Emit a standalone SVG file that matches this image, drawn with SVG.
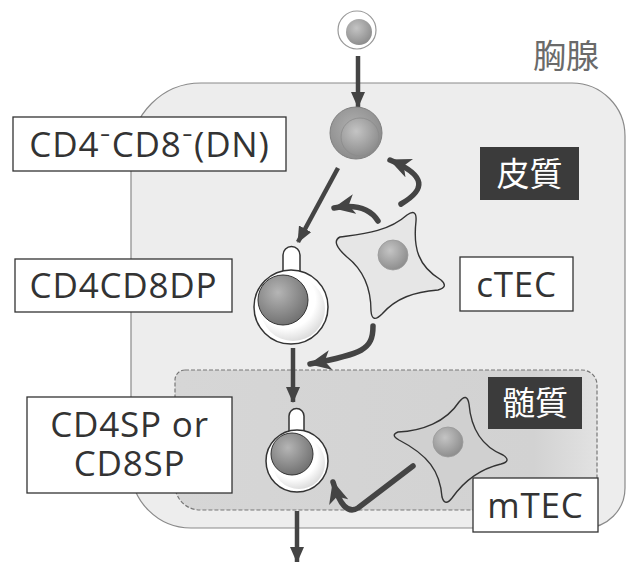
<svg xmlns="http://www.w3.org/2000/svg" width="633" height="562" viewBox="0 0 633 562">
  <style>
    .lbl { fill: #fff; stroke: #333; stroke-width: 1.3; }
    .lt { font-family: "Open Sans", "Lato", "DejaVu Sans", sans-serif; font-size: 35px; fill: #333; text-anchor: middle; letter-spacing: 0.8px; }
    .dark { fill: #3b3b3b; }
    .jt { font-family: "Noto Sans CJK JP", "Noto Sans CJK SC", sans-serif; font-size: 33px; fill: #fff; text-anchor: middle; }
    .arrow { fill: none; stroke: #444; stroke-width: 4.5; }
    .curve { fill: none; stroke: #444; stroke-width: 5.5; stroke-linecap: round; stroke-linejoin: round; }
    .cellwall { fill: #fff; stroke: #333; stroke-width: 1.5; }
    .star { stroke: #333; stroke-width: 1.4; stroke-linejoin: round; }
  </style>
  <defs>
    <marker id="tri" viewBox="0 0 16 14" refX="15" refY="7" markerWidth="16" markerHeight="14" markerUnits="userSpaceOnUse" orient="auto">
      <path d="M0,0 L16,7 L0,14 Z" fill="#444"/>
    </marker>
    <marker id="barb" viewBox="0 0 22 20" refX="21" refY="10" markerWidth="22" markerHeight="20" markerUnits="userSpaceOnUse" orient="auto">
      <path d="M0,0 L22,10 L0,20 L6,10 Z" fill="#444"/>
    </marker>
    <radialGradient id="nuc" cx="0.4" cy="0.35" r="0.7">
      <stop offset="0" stop-color="#b5b5b5"/>
      <stop offset="1" stop-color="#6e6e6e"/>
    </radialGradient>
    <radialGradient id="nucLight" cx="0.4" cy="0.35" r="0.7">
      <stop offset="0" stop-color="#c4c4c4"/>
      <stop offset="1" stop-color="#8a8a8a"/>
    </radialGradient>
    <radialGradient id="dnOuter" cx="0.45" cy="0.4" r="0.6">
      <stop offset="0" stop-color="#b0b0b0"/>
      <stop offset="1" stop-color="#8c8c8c"/>
    </radialGradient>
    <radialGradient id="ring" cx="0.4" cy="0.35" r="0.75">
      <stop offset="0.6" stop-color="#ffffff"/>
      <stop offset="1" stop-color="#cfcfcf"/>
    </radialGradient>
    <linearGradient id="medFill" x1="0" y1="0" x2="1" y2="0">
      <stop offset="0" stop-color="#d6d6d6"/>
      <stop offset="0.85" stop-color="#d2d2d2"/>
      <stop offset="1" stop-color="#e2e2e2"/>
    </linearGradient>
  </defs>

  <rect width="633" height="562" fill="#fff"/>

  <!-- thymus outline -->
  <g id="thymus">
    <path d="M131,153 A70,70 0 0 1 201,83 L572,83 A53,53 0 0 1 625,136 L625,488 A40,40 0 0 1 585,528 L191,528 A60,60 0 0 1 131,468 Z" fill="#ededed" stroke="#8a8a8a" stroke-width="1.2"/>
    <text x="566" y="68" font-family="'Noto Sans CJK JP', 'Noto Sans CJK SC', sans-serif" font-size="33" fill="#6a6a6a" text-anchor="middle">胸腺</text>
  </g>

  <!-- medulla region -->
  <g id="medulla">
    <path d="M185,370 L582,370 A15,15 0 0 1 597,385 L597,510 L200,510 A25,25 0 0 1 175,485 L175,380 A10,10 0 0 1 185,370 Z" fill="url(#medFill)" stroke="#777" stroke-width="1.2" stroke-dasharray="4 2"/>
  </g>

  <!-- region tags -->
  <g id="cortex-tag">
    <rect class="dark" x="480" y="147" width="99" height="53"/>
    <text class="jt" x="529.5" y="186">皮質</text>
  </g>
  <g id="medulla-tag">
    <rect class="dark" x="488" y="377" width="94" height="52"/>
    <text class="jt" x="535" y="415">髄質</text>
  </g>

  <!-- epithelial cells: four-armed stars with rounded tips -->
  <g id="ctec">
    <path class="star" fill="#e6e6e6" d="M340,237 C362,234 388,232 407,215 Q417,208 416,221 C413,248 418,266 441,280 Q449,287 438,290 C414,292 396,298 382,314 Q372,324 371,311 C371,292 366,272 347,257 Q330,242 340,237 Z"/>
    <circle cx="393" cy="255" r="15" fill="url(#nucLight)" stroke="#999" stroke-width="0.8"/>
  </g>
  <g id="mtec">
    <path class="star" fill="#d0d0d0" d="M398,432 C422,431 446,422 459,402 Q467,392 469,404 C471,428 481,446 503,455 Q512,461 501,464 C480,469 464,481 452,498 Q445,507 442,497 C440,471 428,455 399,440 Q390,435 398,432 Z"/>
    <circle cx="448" cy="442" r="15" fill="url(#nucLight)" stroke="#999" stroke-width="0.8"/>
  </g>

  <!-- connectors -->
  <g id="connectors">
    <path class="arrow" d="M358,56 L358,107" marker-end="url(#tri)"/>
    <path class="arrow" d="M338,168 L298,242" marker-end="url(#tri)"/>
    <path class="arrow" d="M293,348 L293,402" marker-end="url(#tri)"/>
    <path class="arrow" d="M297,511 L297,562" marker-end="url(#tri)"/>
    <path class="curve" d="M401,204 C425,190 428,176 390,160" marker-end="url(#barb)"/>
    <path class="curve" d="M378,221 Q366,202 334,208" marker-end="url(#barb)"/>
    <path class="curve" d="M373,326 C373,350 362,354 310,364" marker-end="url(#barb)"/>
    <path class="curve" d="M413,466 L358,508 Q343,517 333,482" marker-end="url(#barb)"/>
  </g>

  <!-- thymocytes -->
  <g id="precursor">
    <circle cx="357" cy="30" r="19" fill="#fff" stroke="#999" stroke-width="1.2"/>
    <circle cx="359" cy="32" r="13" fill="url(#nucLight)"/>
  </g>
  <g id="dn-cell">
    <circle cx="356" cy="133" r="26" fill="url(#dnOuter)" stroke="#808080" stroke-width="1"/>
    <circle cx="360" cy="137" r="19" fill="url(#nucLight)" stroke="#8a8a8a" stroke-width="0.8"/>
  </g>
  <g id="dp-cell">
    <path class="cellwall" d="M283,275 L283,255 A8.5,8.5 0 0 1 300,255 L300,275"/>
    <circle class="cellwall" cx="291" cy="307" r="37"/>
    <circle cx="293" cy="309" r="32" fill="url(#ring)"/>
    <circle cx="283" cy="300" r="25" fill="url(#nuc)" stroke="#333" stroke-width="1"/>
  </g>
  <g id="sp-cell">
    <path class="cellwall" d="M289,436 L289,416 A7.5,7.5 0 0 1 304,416 L304,436"/>
    <circle class="cellwall" cx="297" cy="461" r="31"/>
    <circle cx="299" cy="463" r="26" fill="url(#ring)"/>
    <circle cx="292" cy="454" r="21" fill="url(#nuc)" stroke="#333" stroke-width="1"/>
  </g>

  <!-- labels -->
  <g id="label-dn">
    <rect class="lbl" x="13" y="117" width="273" height="54"/>
    <text class="lt" x="149.5" y="157">CD4⁻CD8⁻(DN)</text>
  </g>
  <g id="label-dp">
    <rect class="lbl" x="15" y="259" width="217" height="53"/>
    <text class="lt" x="123.5" y="298">CD4CD8DP</text>
  </g>
  <g id="label-sp">
    <rect class="lbl" x="27" y="397" width="205" height="96"/>
    <text class="lt" x="129.5" y="437"><tspan x="129.5">CD4SP or</tspan><tspan x="129.5" dy="39">CD8SP</tspan></text>
  </g>
  <g id="label-ctec">
    <rect class="lbl" x="460" y="257" width="113" height="54"/>
    <text class="lt" x="516.5" y="297">cTEC</text>
  </g>
  <g id="label-mtec">
    <rect class="lbl" x="473" y="478" width="125" height="54"/>
    <text class="lt" x="535.5" y="518">mTEC</text>
  </g>
</svg>
